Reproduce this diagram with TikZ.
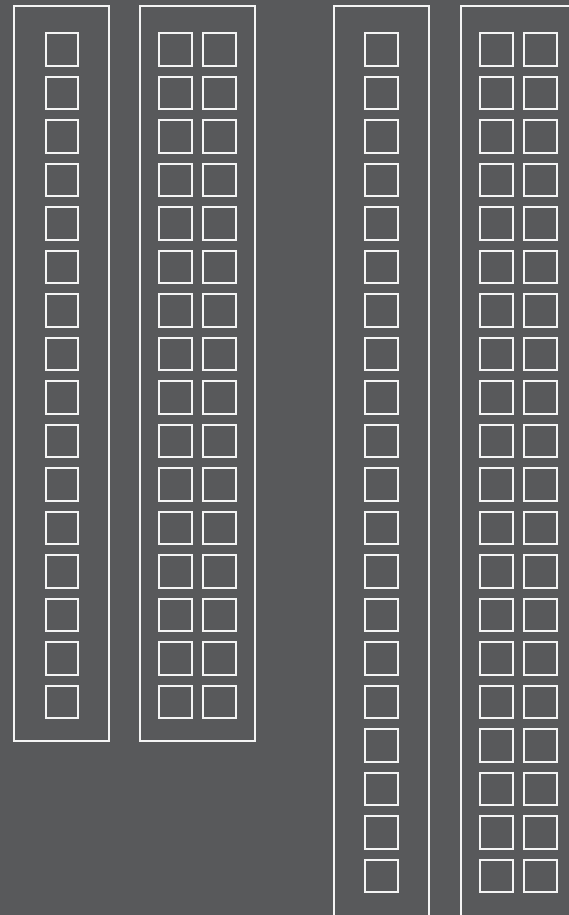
\documentclass[tikz,border=0pt]{standalone}
\usepackage{xcolor}
\usepackage{tikz}
\definecolor{wall}{HTML}{58595B}
\definecolor{line}{HTML}{F4F4F4}
\tikzset{
  frame/.style={draw=line, line width=1.8bp},
  cell/.style={draw=line, line width=1.8bp},
}

\begin{document}
\begin{tikzpicture}[x=1bp, y=-1bp]

  % --- page ---
  \clip (0,0) rectangle (569,915);
  \fill[wall] (0,0) rectangle (569,915);

  % --- short stacks (16 rows) ---
  \draw[frame] (14.3,6.3) rectangle (109.3,740.7);
  \draw[frame] (140.3,6.3) rectangle (255,740.7);
  \foreach \r in {0,...,15} {
    \draw[cell] (45.7,33.3+43.5*\r) rectangle ++(32.6,32.4);
    \foreach \c in {159.3,203}
      \draw[cell] (\c,33.3+43.5*\r) rectangle ++(32.6,32.4);
  }

  % --- tall stacks (20 rows, cut by the page edge) ---
  \draw[frame] (334.3,6.3) rectangle (428.7,940);
  \draw[frame] (461.3,6.3) rectangle (600,940);
  \foreach \r in {0,...,19} {
    \draw[cell] (364.7,33.3+43.5*\r) rectangle ++(33,32.4);
    \foreach \c in {480,524}
      \draw[cell] (\c,33.3+43.5*\r) rectangle ++(33,32.4);
  }

\end{tikzpicture}
\end{document}
